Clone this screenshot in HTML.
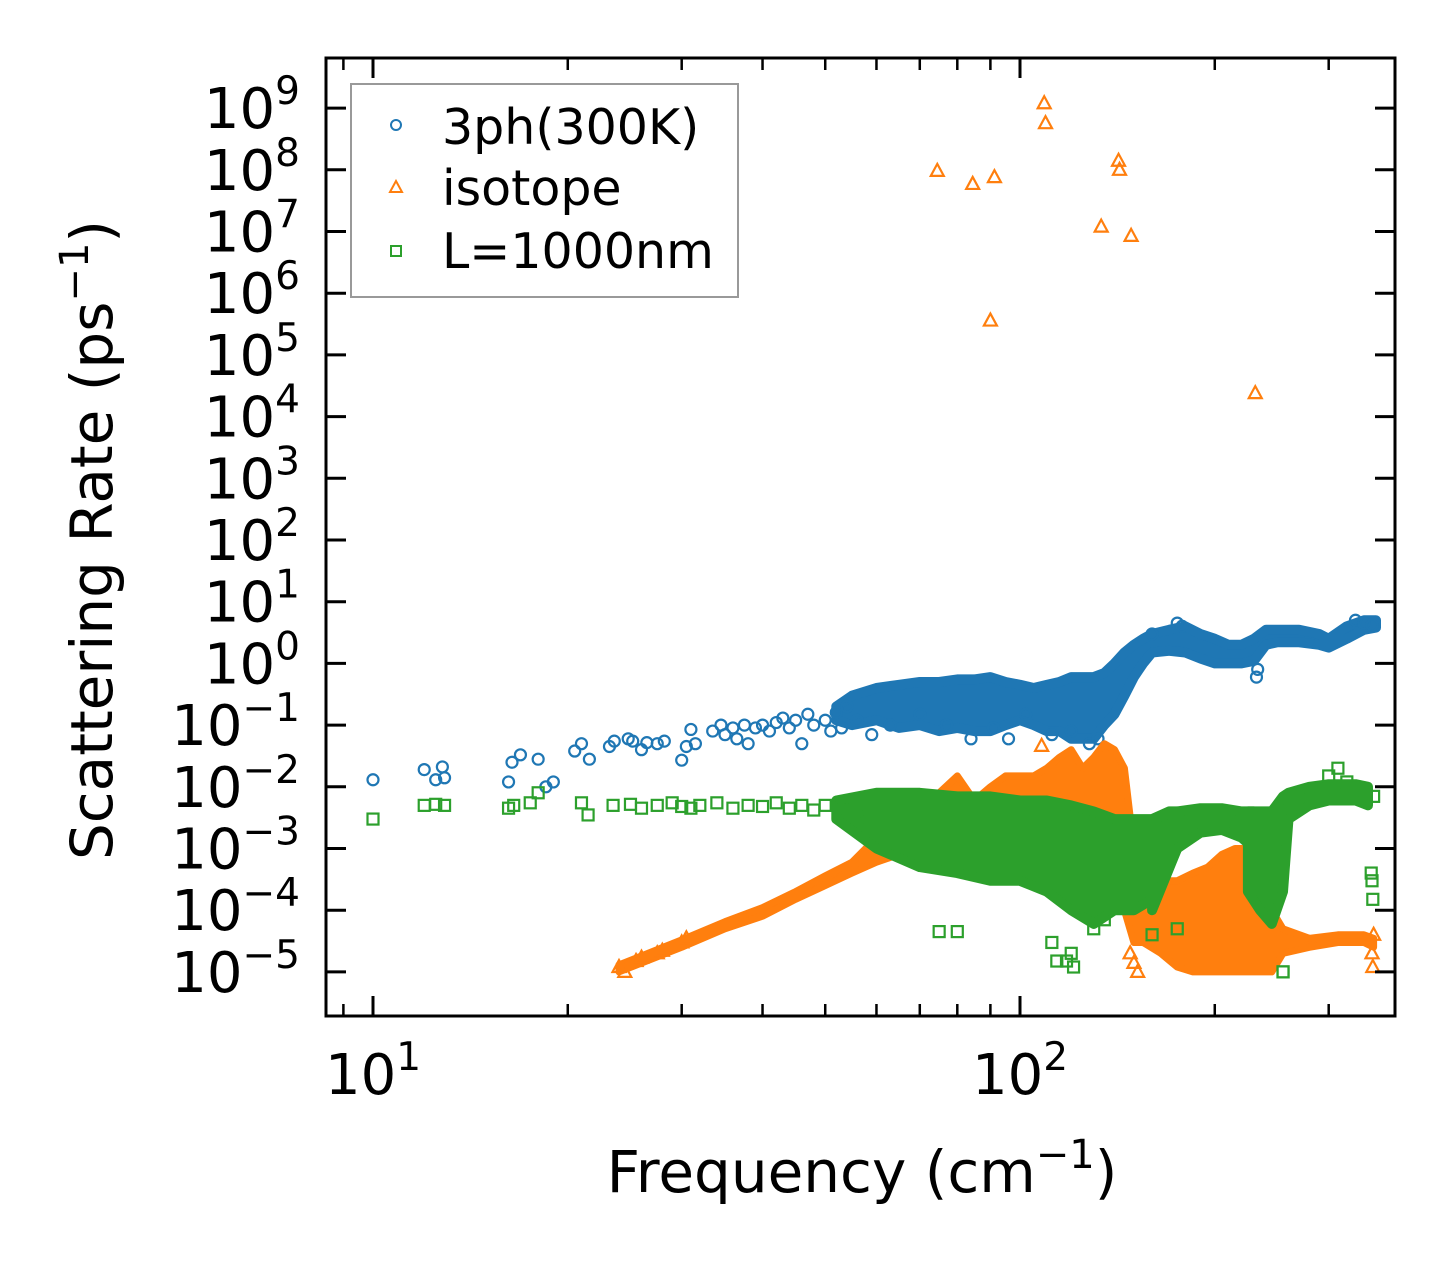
<!DOCTYPE html>
<html><head><meta charset="utf-8"><style>
html,body{margin:0;padding:0;background:#fff;}
svg{display:block;font-family:"DejaVu Sans","Liberation Sans",sans-serif;}
</style></head><body>
<div style="position:relative;width:1455px;height:1265px;">
<svg id="chart" width="1455" height="1265" viewBox="0 0 1455 1265" xmlns="http://www.w3.org/2000/svg" style="position:absolute;left:0;top:0">
<rect x="0" y="0" width="1455" height="1265" fill="#fff"/>
<g id="plot"></g>
<g id="axes"></g>
<g id="legend">
 <rect x="351" y="84" width="387" height="213" fill="#fff" fill-opacity="0.85" stroke="#999" stroke-width="2"/>
 <g>
  <circle cx="396" cy="125" r="5" fill="none" stroke="#1f77b4" stroke-width="2"/>
  <text x="442" y="144" font-size="49" fill="#000">3ph(300K)</text>
 </g>
 <g>
  <path d="M396,181 L402,192 L390,192 Z" fill="none" stroke="#ff7f0e" stroke-width="2"/>
  <text x="442" y="205" font-size="49" fill="#000">isotope</text>
 </g>
 <g>
  <rect x="391" y="246" width="10" height="10" fill="none" stroke="#2ca02c" stroke-width="2"/>
  <text x="442" y="268" font-size="49" fill="#000">L=1000nm</text>
 </g>
</g>
<text x="862" y="1192" font-size="58" text-anchor="middle" fill="#000">Frequency (cm<tspan dy="-24" font-size="40">−1</tspan><tspan dy="24">)</tspan></text>
<text transform="translate(112,540) rotate(-90)" font-size="58" text-anchor="middle" fill="#000">Scattering Rate (ps<tspan dy="-24" font-size="40">−1</tspan><tspan dy="24">)</tspan></text>
</svg>
</div>
<script>
// ---- data ----
const blueF = [10,12,12.5,12.8,12.9,16.2,16.4,16.9,18,18.5,19,20.5,21,21.6,23.2,23.6,24.8,25.2,26,26.5,27.5,28.2,30,30.5,31,31.5,33.5,34.5,35,36,36.5,37.5,38,39,40,41,42,43,44,45,46,47,48,50,51,52,53,54,56,59,63,70,77,84,91,96,102,112,120,128,132,160,175,178,232,233,330,340,350];
const blueV = [0.013,0.019,0.013,0.021,0.014,0.012,0.025,0.033,0.028,0.01,0.012,0.038,0.05,0.028,0.045,0.055,0.06,0.055,0.04,0.052,0.05,0.055,0.027,0.045,0.085,0.05,0.08,0.1,0.07,0.09,0.06,0.1,0.05,0.09,0.1,0.08,0.11,0.13,0.09,0.12,0.05,0.15,0.1,0.12,0.08,0.16,0.09,0.2,0.12,0.07,0.1,0.15,0.1,0.06,0.09,0.06,0.15,0.07,0.08,0.05,0.06,3,4.5,4,0.6,0.8,5,4.5,4.2];
const blueBandF = [52,55,60,65,70,75,80,85,90,95,100,105,110,115,120,125,130,135,140,145,150,155,160,170,180,190,200,210,220,230,240,250,270,290,300,320,340,355];
const blueBandLo = [0.12,0.1,0.12,0.09,0.1,0.08,0.09,0.08,0.08,0.1,0.12,0.1,0.08,0.08,0.06,0.06,0.06,0.1,0.15,0.3,0.6,1,1.5,1.6,1.5,1.2,1.0,1.0,1.0,1.1,2,2.2,2.2,2,1.8,2.5,3.5,3.8];
const blueBandHi = [0.2,0.3,0.4,0.45,0.5,0.5,0.55,0.55,0.6,0.5,0.45,0.4,0.45,0.5,0.6,0.6,0.6,0.7,1.0,1.5,2,2.5,3,3.5,4,3,2.5,2,2,2.5,3.5,3.5,3.5,3,2.5,4,5,5];

const orangeF = [24,24.5,25.5,26,27.5,28,30,30.5,74.5,84.5,91.3,90,109,109.5,133.5,142,142.5,148.5,231,108,148,150,152,350,351,352];
const orangeV = [1.2e-5,1e-5,1.5e-5,1.7e-5,2e-5,2.2e-5,3e-5,3.5e-5,9.6e7,5.9e7,7.6e7,3.6e5,1.2e9,5.7e8,1.2e7,1.4e8,1e8,8.5e6,2.4e4,0.046,2e-5,1.4e-5,1e-5,2e-5,1.2e-5,4e-5];
const orangeBandF = [24,30,35,40,45,50,55,60,65,70,75,80,85,90,95,100,105,110,115,120,125,130,135,140,145,150,155,165,175,185,195,205,215,225,235,245,255,280,310,340,352];
const orangeBandLo = [1e-5,2.5e-5,5e-5,8e-5,1.5e-4,2.5e-4,4e-4,6e-4,8e-4,1e-3,1e-3,1e-3,1e-3,1e-3,1e-3,1e-3,1e-3,1e-3,1e-3,1e-3,1e-3,1e-3,2e-3,3e-3,1e-4,3e-5,3e-5,2e-5,1.2e-5,1e-5,1e-5,1e-5,1e-5,1e-5,1e-5,1e-5,2e-5,2.5e-5,3e-5,3e-5,2.5e-5];
const orangeBandHi = [1.3e-5,3.3e-5,6.5e-5,1.1e-4,2e-4,3.6e-4,6e-4,1.5e-3,2e-3,4e-3,8e-3,1.5e-2,6e-3,1e-2,1.5e-2,1.5e-2,1.5e-2,2e-2,3e-2,4e-2,2e-2,3e-2,5e-2,4e-2,2e-2,1e-3,4e-4,3e-4,3e-4,4e-4,5e-4,8e-4,1e-3,1e-3,6e-4,1e-4,5e-5,3.5e-5,4e-5,4e-5,3.5e-5];

const greenF = [10,12,12.5,12.9,16.2,16.5,17.5,18,21,21.5,23.5,25,26,27.5,29,30,31,32,34,36,38,40,42,44,46,48,50,53,56,58,75,80,112,114,118,120,121,130,135,150,160,175,255,349,350,351,352,255,300,310,320];
const greenV = [3e-3,5e-3,5.2e-3,5e-3,4.5e-3,5e-3,5.5e-3,8e-3,5.5e-3,3.5e-3,5e-3,5.2e-3,4.5e-3,5e-3,5.5e-3,4.8e-3,4.5e-3,5e-3,5.5e-3,4.5e-3,5e-3,4.8e-3,5.5e-3,4.5e-3,5e-3,4.2e-3,5e-3,4.6e-3,3.2e-3,4e-3,4.5e-5,4.5e-5,3e-5,1.5e-5,1.5e-5,2e-5,1.2e-5,5e-5,7e-5,1.2e-4,4e-5,5e-5,1e-5,4e-4,3e-4,1.5e-4,7e-3,1e-5,1.5e-2,2e-2,1.2e-2];
const greenBandF = [52,60,70,80,90,100,110,120,130,140,150,160,170,175];
const greenBandLo = [3e-3,1e-3,5e-4,4e-4,3e-4,3e-4,2e-4,1e-4,6e-5,1e-4,1e-4,1.5e-4,5e-4,1e-3];
const greenBandHi = [6e-3,8e-3,8e-3,7e-3,7e-3,6e-3,6e-3,5e-3,4e-3,3e-3,3e-3,3e-3,4e-3,4e-3];
const greenArchF = [160,175,190,205,220,230];
const greenArchLo = [1e-4,1e-3,1.8e-3,2e-3,1.5e-3,1e-3];
const greenArchHi = [3e-3,4e-3,4.5e-3,4.5e-3,4e-3,4e-3];
const greenPillarF = [225,235,245,255,260,280,300,330,345];
const greenPillarLo = [2e-4,1e-4,6e-5,2e-4,3e-3,5e-3,6e-3,6e-3,5e-3];
const greenPillarHi = [4e-3,4e-3,4e-3,7e-3,8e-3,1e-2,1.1e-2,1.1e-2,1e-2];

const yTickExp = [9,8,7,6,5,4,3,2,1,0,-1,-2,-3,-4,-5];
const xTickExp = [1,2];
const xMinor = [9,20,30,40,50,60,70,80,90,200,300];

// ---- scales ----
const L=326,R=1395,T=58,B=1016;
function X(f){return 373+647*Math.log10(f/10);}
function Y(v){return 663.4-61.7*Math.log10(v);}
const NS="http://www.w3.org/2000/svg";
function mk(tag,attrs,parent){const e=document.createElementNS(NS,tag);for(const k in attrs)e.setAttribute(k,attrs[k]);parent.appendChild(e);return e;}
const plot=document.getElementById('plot'), axes=document.getElementById('axes');

function band(F,Lo,Hi,color,name,sw){
  let pts=[];
  for(let i=0;i<F.length;i++)pts.push(X(F[i]).toFixed(1)+','+Y(Hi[i]).toFixed(1));
  for(let i=F.length-1;i>=0;i--)pts.push(X(F[i]).toFixed(1)+','+Y(Lo[i]).toFixed(1));
  const p=mk('polygon',{points:pts.join(' '),fill:color,stroke:color,'stroke-width':sw,'stroke-linejoin':'round'},plot);
  
  
}
function circles(F,V){for(let i=0;i<F.length;i++){const c=mk('circle',{cx:X(F[i]),cy:Y(V[i]),r:5.5,fill:'none',stroke:'#1f77b4','stroke-width':2.2},plot);
  
  }}
function tris(F,V){for(let i=0;i<F.length;i++){const x=X(F[i]),y=Y(V[i]);const p=mk('path',{d:`M${x},${y-7} L${x+6.5},${y+5} L${x-6.5},${y+5} Z`,fill:'none',stroke:'#ff7f0e','stroke-width':2.2},plot);
  
  }}
function squares(F,V){for(let i=0;i<F.length;i++){const x=X(F[i]),y=Y(V[i]);const r=mk('rect',{x:x-5.5,y:y-5.5,width:11,height:11,fill:'none',stroke:'#2ca02c','stroke-width':2.2},plot);
  
  }}

band(blueBandF,blueBandLo,blueBandHi,'#1f77b4','3ph-dense-band',10);
circles(blueF,blueV);
band(orangeBandF,orangeBandLo,orangeBandHi,'#ff7f0e','isotope-dense-band',7);
tris(orangeF,orangeV);
band(greenBandF,greenBandLo,greenBandHi,'#2ca02c','boundary-dense-band',10);
band(greenArchF,greenArchLo,greenArchHi,'#2ca02c','boundary-arch-band',10);
band(greenPillarF,greenPillarLo,greenPillarHi,'#2ca02c','boundary-high-band',10);
squares(greenF,greenV);

// ---- axes ----
const frame=mk('rect',{x:L,y:T,width:R-L,height:B-T,fill:'none',stroke:'#000','stroke-width':3},axes);


yTickExp.forEach(e=>{
  const y=Y(Math.pow(10,e));
  mk('line',{x1:L,x2:L+20,y1:y,y2:y,stroke:'#000','stroke-width':3},axes);
  mk('line',{x1:R,x2:R-20,y1:y,y2:y,stroke:'#000','stroke-width':3},axes);
  const t=mk('text',{x:300,y:y+20,'font-size':56,'text-anchor':'end',fill:'#000'},axes);
  
  
  t.appendChild(document.createTextNode('10'));
  const s=mk('tspan',{dy:-24,'font-size':39},t);
  s.textContent=(e<0?'\u2212'+(-e):String(e));
});
xTickExp.forEach(e=>{
  const x=X(Math.pow(10,e));
  mk('line',{x1:x,x2:x,y1:B,y2:B-20,stroke:'#000','stroke-width':3},axes);
  mk('line',{x1:x,x2:x,y1:T,y2:T+20,stroke:'#000','stroke-width':3},axes);
  const t=mk('text',{x:x,y:1094,'font-size':56,'text-anchor':'middle',fill:'#000'},axes);
  
  
  t.appendChild(document.createTextNode('10'));
  const s=mk('tspan',{dy:-24,'font-size':39},t);
  s.textContent=String(e);
});
xMinor.forEach(f=>{
  const x=X(f);
  mk('line',{x1:x,x2:x,y1:B,y2:B-12,stroke:'#000','stroke-width':2.5},axes);
  mk('line',{x1:x,x2:x,y1:T,y2:T+12,stroke:'#000','stroke-width':2.5},axes);
});
</script>
</body></html>
